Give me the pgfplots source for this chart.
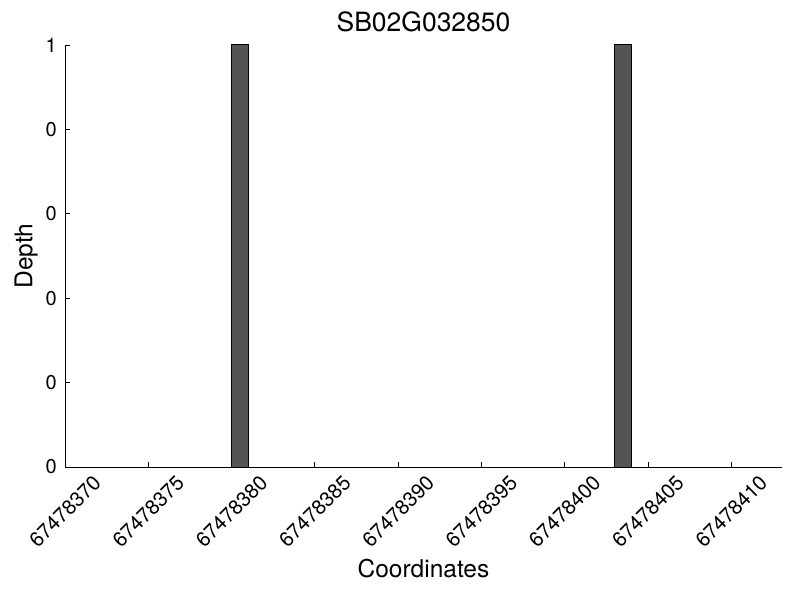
\documentclass[border=0pt]{standalone}
\usepackage{pgfplots}
\pgfplotsset{compat=1.18}
\usepackage{fontspec}
\setmainfont{TeX Gyre Heros}
\definecolor{barfill}{HTML}{545454}
\begin{document}
\begin{tikzpicture}
\useasboundingbox (-65bp,-133bp) rectangle (735bp,467bp);
\begin{axis}[
  at={(0,0)}, anchor=south west,
  scale only axis, width=717bp, height=422bp,
  xmin=0, xmax=43.05, ymin=0, ymax=1,
  axis x line*=bottom, axis y line*=left,
  axis line style={line width=1bp, -},
  tick align=inside, major tick length=5bp,
  tick style={line width=0.8bp, black},
  xtick={0,5,...,40},
  xticklabels={\rotatebox{45}{67478370},\rotatebox{45}{67478375},\rotatebox{45}{67478380},\rotatebox{45}{67478385},\rotatebox{45}{67478390},\rotatebox{45}{67478395},\rotatebox{45}{67478400},\rotatebox{45}{67478405},\rotatebox{45}{67478410}},
  ytick={0,0.2,0.4,0.6,0.8,1},
  yticklabels={0,0,0,0,0,1},
  xticklabel style={anchor=north, inner sep=0pt, yshift=-7bp, font=\fontsize{20.5bp}{23bp}\selectfont},
  yticklabel style={anchor=east, inner sep=0pt, xshift=-8bp, font=\fontsize{20bp}{23bp}\selectfont},
  title={SB02G032850},
  title style={font=\fontsize{26.5bp}{31bp}\selectfont, anchor=base, at={(axis description cs:0.5,1)}, yshift=8bp, inner sep=0pt},
  xlabel={Coordinates},
  ylabel={Depth},
  xlabel style={font=\fontsize{24.5bp}{28bp}\selectfont, anchor=base, at={(axis description cs:0.5,0)}, yshift=-110bp, inner sep=0pt},
  ylabel style={font=\fontsize{24.5bp}{28bp}\selectfont, anchor=center, at={(axis description cs:-0.0544,0.5)}, inner sep=0pt},
]
\addplot[ybar, bar width=1, bar shift=0.5, fill=barfill, draw=black, line width=1bp]
  coordinates {(10,1) (33,1)};
\end{axis}
\end{tikzpicture}
\end{document}
